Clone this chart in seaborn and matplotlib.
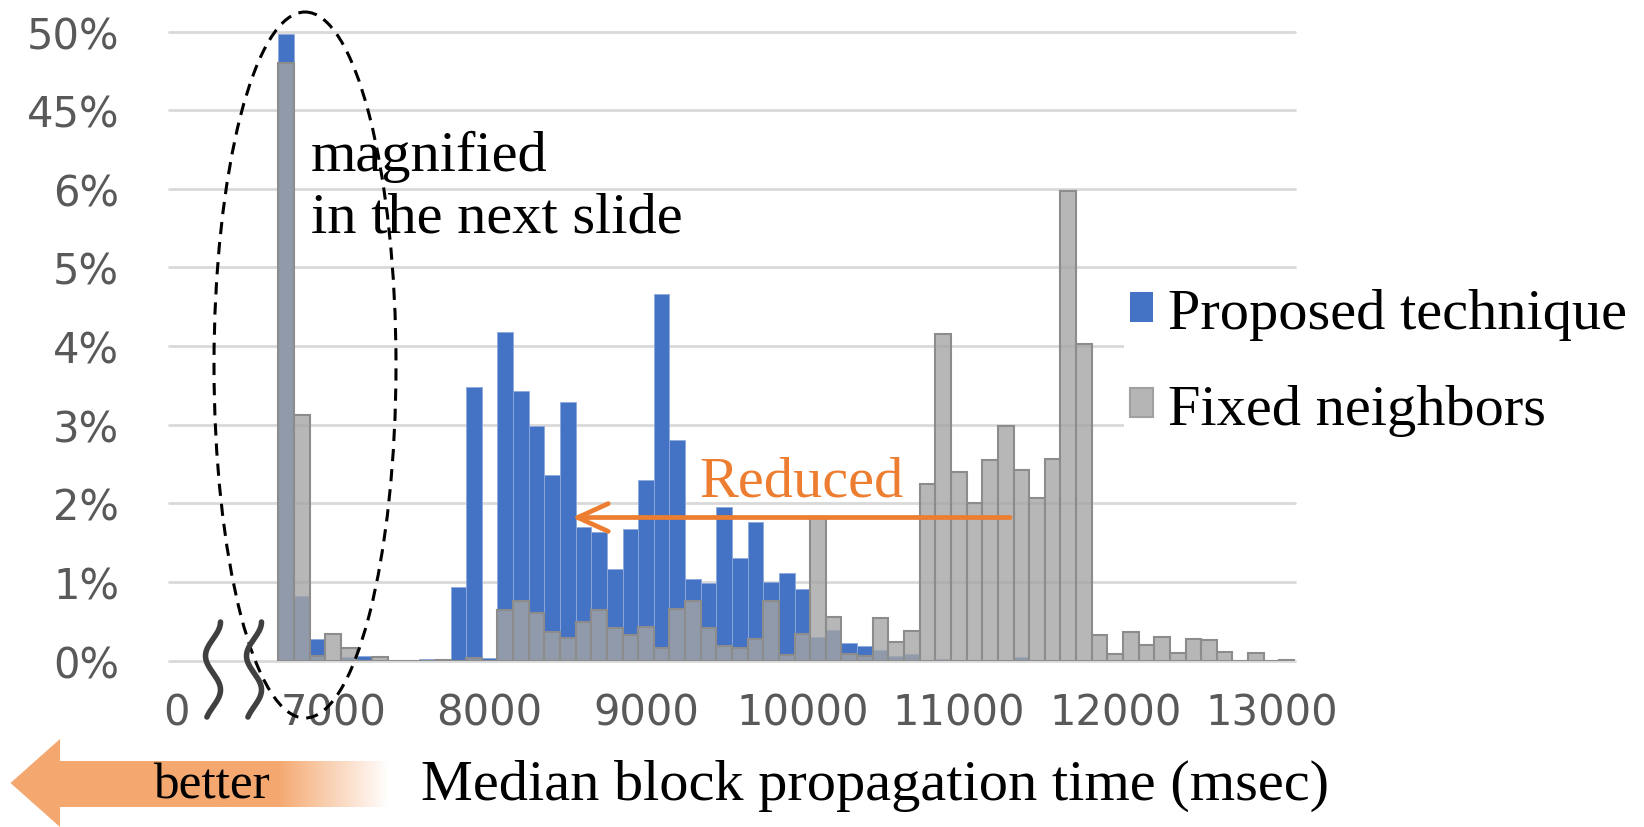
import numpy as np
import pandas as pd
import matplotlib
matplotlib.use("Agg")
import matplotlib.pyplot as plt
import seaborn as sns
from matplotlib.patches import Ellipse, Patch, Polygon, FancyArrowPatch, ArrowStyle

# ---------------- data (percent of runs per 100 ms bin, labelled by bin upper bound) ----------------
bin_upper = [6700, 6800, 6900, 7000, 7100, 7200, 7300, 7400, 7500, 7600,
             7700, 7800, 7900, 8000, 8100, 8200, 8300, 8400, 8500, 8600,
             8700, 8800, 8900, 9000, 9100, 9200, 9300, 9400, 9500, 9600,
             9700, 9800, 9900, 10000, 10100, 10200, 10300, 10400, 10500, 10600,
             10700, 10800, 10900, 11000, 11100, 11200, 11300, 11400, 11500, 11600,
             11700, 11800, 11900, 12000, 12100, 12200, 12300, 12400, 12500, 12600,
             12700, 12800, 12900, 13000, 13100]
proposed = [49.85, 0.82, 0.28, 0.0, 0.04, 0.055, 0.0, 0.0, 0.0, 0.02,
            0.0, 0.93, 3.48, 0.03, 4.18, 3.43, 2.98, 2.36, 3.29, 1.70,
            1.64, 1.16, 1.68, 2.30, 4.66, 2.80, 1.04, 0.99, 1.95, 1.31,
            1.76, 1.00, 1.12, 0.91, 0.30, 0.39, 0.22, 0.19, 0.14, 0.06,
            0.08, 0.0, 0.02, 0.0, 0.0, 0.0, 0.0, 0.04, 0.0, 0.0,
            0.0, 0.0, 0.0, 0.0, 0.0, 0.0, 0.0, 0.0, 0.0, 0.0,
            0.0, 0.0, 0.0, 0.0, 0.0]
fixed = [48.0, 3.12, 0.06, 0.34, 0.16, 0.0, 0.05, 0.0, 0.0, 0.0,
         0.013, 0.0, 0.03, 0.0, 0.64, 0.76, 0.60, 0.37, 0.29, 0.49,
         0.64, 0.41, 0.33, 0.43, 0.16, 0.66, 0.76, 0.41, 0.18, 0.16,
         0.27, 0.76, 0.07, 0.34, 1.83, 0.55, 0.08, 0.06, 0.54, 0.24,
         0.38, 2.25, 4.16, 2.40, 2.00, 2.55, 2.98, 2.42, 2.07, 2.57,
         5.97, 4.03, 0.32, 0.08, 0.36, 0.20, 0.30, 0.10, 0.28, 0.26,
         0.11, 0.0, 0.10, 0.0, 0.013]
series_labels = ["Proposed technique", "Fixed neighbors"]
x_tick_bins = [6000, 7000, 8000, 9000, 10000, 11000, 12000, 13000]
x_tick_labels = ["0", "7000", "8000", "9000", "10000", "11000", "12000", "13000"]
y_ticks = [0, 1, 2, 3, 4, 5, 6, 45, 50]
x_label = "Median block propagation time (msec)"
annot_magnified = ["magnified", "in the next slide"]
annot_reduced = "Reduced"
annot_better = "better"

BIN = 100
W, H = 1644, 828

BLUE = "#4472C4"
GRAY = "#A5A5A5"
ORANGE = "#ED7D31"
TICKC = "#595959"
GRIDC = "#D9D9D9"
SERIF = ["Liberation Serif", "DejaVu Serif"]

sns.set_style("white")
plt.rcParams["font.family"] = ["DejaVu Sans"]
plt.rcParams["text.color"] = "black"

fig = plt.figure(figsize=(W / 100, H / 100), dpi=100)
ax_l, ax_r, ax_b, ax_t = 169, 1295, 661.6, 32.6
ax = fig.add_axes([ax_l / W, 1 - ax_b / H, (ax_r - ax_l) / W, (ax_b - ax_t) / H])

centers = np.array(bin_upper) - BIN / 2
brange = (min(bin_upper) - BIN, max(bin_upper))
df = pd.DataFrame({"t": centers, "proposed": proposed, "fixed": fixed})

sns.histplot(data=df, x="t", weights="proposed", binwidth=BIN, binrange=brange, ax=ax,
             color=BLUE, alpha=1.0, edgecolor="#8EA9DB", linewidth=0.6, zorder=2)
sns.histplot(data=df, x="t", weights="fixed", binwidth=BIN, binrange=brange, ax=ax,
             color=GRAY, alpha=0.8, edgecolor="#8C8C8C", linewidth=1.5, zorder=3)

# broken y axis: 0-6 % linear, 6-45 % compressed into one grid step, 45-50 % one step
yk_in = [0, 6, 45, 50]
yk_out = [0, 6, 7, 8]
def fwd(v):
    return np.interp(v, yk_in, yk_out)
def inv(v):
    return np.interp(v, yk_out, yk_in)
ax.set_yscale("function", functions=(fwd, inv))
ax.set_ylim(0, 50)
ax.set_xlim(min(bin_upper) - BIN - 700, max(bin_upper))

ax.set_yticks(y_ticks)
ax.set_yticklabels([f"{v}%" for v in y_ticks])
ax.set_xticks(np.array(x_tick_bins) - BIN / 2)
ax.set_xticklabels(x_tick_labels)
ax.tick_params(axis="both", length=0, labelsize=30, colors=TICKC)
ax.tick_params(axis="y", pad=36)
ax.tick_params(axis="x", pad=22)
ax.set_ylabel("")
ax.set_xlabel(x_label, fontsize=42, family=SERIF, color="black")
ax.xaxis.label.set_va("center")
ax.xaxis.set_label_coords((875 - ax_l) / (ax_r - ax_l), (ax_b - 786) / (ax_b - ax_t))

ax.yaxis.grid(True, color=GRIDC, linewidth=2)
ax.xaxis.grid(False)
ax.set_axisbelow(True)
for gl in ax.get_ygridlines():
    gl.set_clip_on(False)
for s in ax.spines.values():
    s.set_visible(False)

# legend
handles = [Patch(facecolor=BLUE, edgecolor="none"),
           Patch(facecolor="#B5B5B5", edgecolor="#A0A0A0", linewidth=1.5)]
fig.legend(handles, series_labels, loc="upper left",
           bbox_to_anchor=(1124 / W, 1 - 283 / H), frameon=True, facecolor="white",
           edgecolor="none", framealpha=1, borderpad=0.1, borderaxespad=0,
           handlelength=0.4, handleheight=0.4, handletextpad=0.25, labelspacing=0.75,
           prop=dict(family=SERIF, size=42), labelcolor="black")

# overlay in pixel coordinates for annotations
ov = fig.add_axes([0, 0, 1, 1], zorder=5)
ov.set_xlim(0, W)
ov.set_ylim(H, 0)
ov.axis("off")
ov.patch.set_alpha(0)

# axis-break squiggles
t = np.linspace(0, 1, 200)
for xc in (213, 254):
    ov.plot(xc + 7.5 * np.cos(2 * np.pi * 1.4 * t), 623 + 95 * t, color="#404040",
            lw=4.0, solid_capstyle="round")

# dashed ellipse
ov.add_patch(Ellipse((305, 366), 182, 706, fill=False, edgecolor="black",
                     lw=2.2, linestyle=(0, (4, 2.6))))

# annotations
ov.text(311, 171, annot_magnified[0], family=SERIF, fontsize=42, va="baseline", ha="left",
        color="black")
ov.text(311, 233, annot_magnified[1], family=SERIF, fontsize=42, va="baseline", ha="left",
        color="black")
ov.text(699, 497, annot_reduced, family=SERIF, fontsize=42, va="baseline", ha="left", color=ORANGE)
arr = FancyArrowPatch((1010, 518.5), (572, 518.5),
                      arrowstyle=ArrowStyle("->", head_length=2.2, head_width=1.0),
                      mutation_scale=10, lw=3.4, color=ORANGE, shrinkA=0, shrinkB=0,
                      capstyle="round", joinstyle="round")
ov.add_patch(arr)

# "better" gradient arrow
poly = Polygon([(10.5, 784), (60, 740), (60, 762), (388, 762), (388, 808),
                (60, 808), (60, 828), (10.5, 784)], closed=True, facecolor="none",
               edgecolor="none")
ov.add_patch(poly)
xs = np.linspace(10, 388, 400)
frac = np.clip((xs - 277) / (388 - 277), 0, 1)
c0 = np.array([0xF4, 0xA8, 0x70]) / 255
grad = (c0[None, :] * (1 - frac[:, None]) + frac[:, None] * 1.0)[None, :, :]
im = ov.imshow(grad, extent=[10, 388, 828, 740], aspect="auto", zorder=1)
im.set_clip_path(poly)
ov.set_xlim(0, W)
ov.set_ylim(H, 0)
ov.text(211, 786, annot_better, family=SERIF, fontsize=37, va="center", ha="center", zorder=2,
        color="black")

fig.savefig("out.png", dpi=100)
